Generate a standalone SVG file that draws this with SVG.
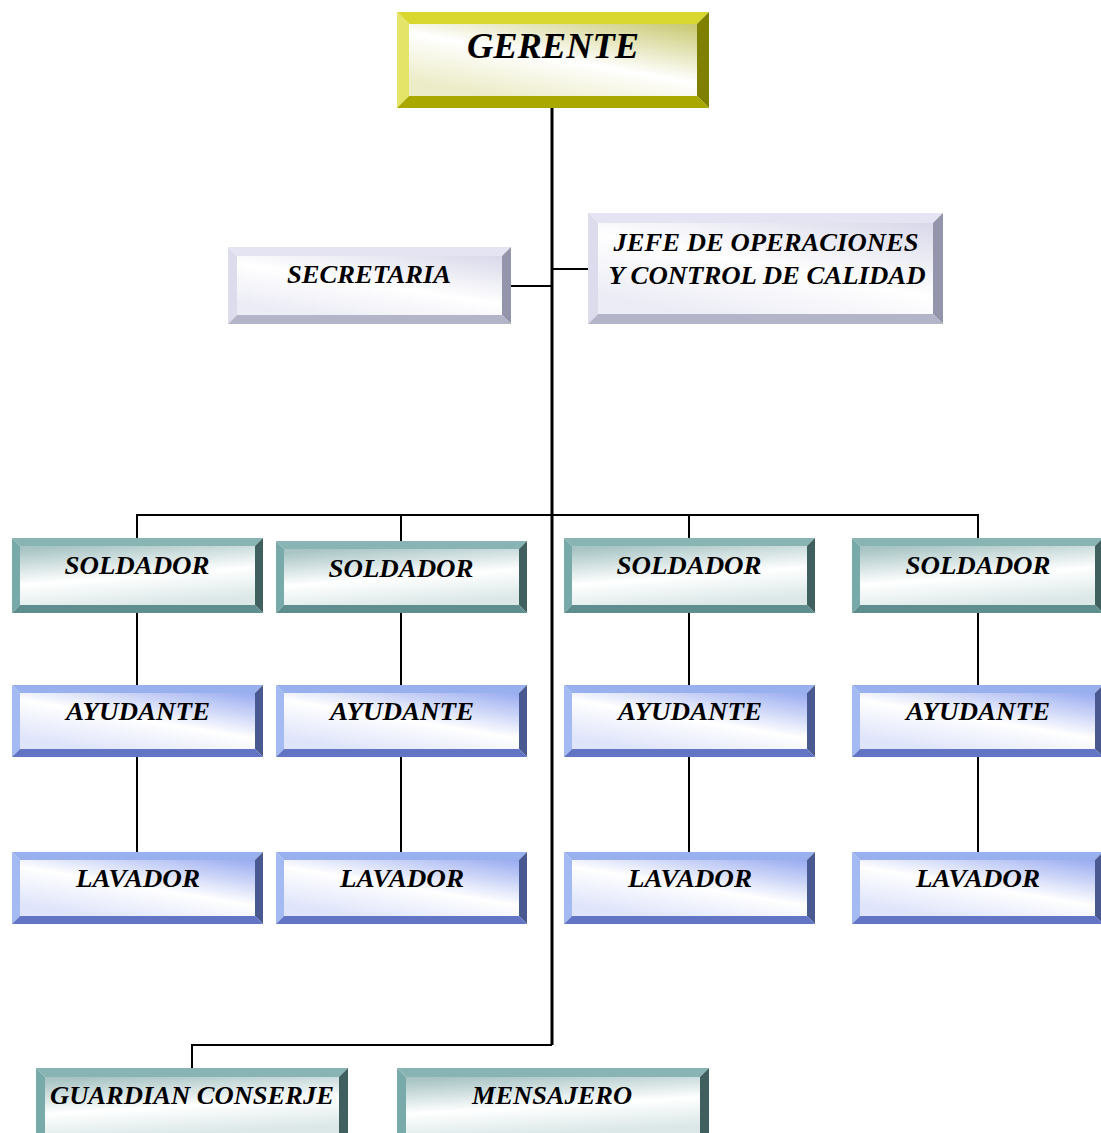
<svg xmlns="http://www.w3.org/2000/svg" width="1101" height="1133" viewBox="0 0 1101 1133">
<defs>
<linearGradient id="gY" x1="1" y1="0" x2="0.3" y2="1"><stop offset="0" stop-color="#c8c870"/><stop offset="0.55" stop-color="#ffffff"/><stop offset="1" stop-color="#ececc8"/></linearGradient>
<linearGradient id="gL" x1="1" y1="0" x2="0.3" y2="1"><stop offset="0" stop-color="#d8d8ea"/><stop offset="0.55" stop-color="#ffffff"/><stop offset="1" stop-color="#ececf6"/></linearGradient>
<linearGradient id="gT" x1="0.2" y1="0" x2="0.5" y2="1"><stop offset="0" stop-color="#a8c4c4"/><stop offset="0.55" stop-color="#ffffff"/><stop offset="1" stop-color="#dce8e8"/></linearGradient>
<linearGradient id="gB" x1="1" y1="0" x2="0.3" y2="1"><stop offset="0" stop-color="#98aaf0"/><stop offset="0.55" stop-color="#ffffff"/><stop offset="1" stop-color="#dfe4fa"/></linearGradient>
</defs>
<style>
text{font-family:"Liberation Serif","Times New Roman",serif;font-weight:bold;font-style:italic;fill:#000;text-anchor:middle}
.s{font-size:25px}
.g{font-size:36px}
.c{stroke:#000;fill:none}
.yt{fill:#d8d830}.yl{fill:#e4e468}.yr{fill:#808000}.yb{fill:#a8a800}
.lt{fill:#e4e4f2}.ll{fill:#dcdcec}.lr{fill:#9494aa}.lb{fill:#b4b4c8}
.tt{fill:#88b4b4}.tl{fill:#78aaaa}.tr{fill:#406060}.tb{fill:#5e8e8e}
.bt{fill:#98b0ee}.bl{fill:#a4baf2}.br{fill:#4a5a90}.bb{fill:#6274c4}
</style>
<g id="connectors">
<line class="c" x1="552" y1="108" x2="552" y2="1045" stroke-width="3"/>
<line class="c" x1="511" y1="286" x2="552" y2="286" stroke-width="2"/>
<line class="c" x1="552" y1="269" x2="588" y2="269" stroke-width="2"/>
<polyline class="c" points="137,538 137,515 978,515 978,538" stroke-width="2"/>
<line class="c" x1="401" y1="515" x2="401" y2="541" stroke-width="2"/>
<line class="c" x1="689" y1="515" x2="689" y2="538" stroke-width="2"/>
<line class="c" x1="137" y1="613" x2="137" y2="685" stroke-width="2"/>
<line class="c" x1="137" y1="757" x2="137" y2="852" stroke-width="2"/>
<line class="c" x1="401" y1="613" x2="401" y2="685" stroke-width="2"/>
<line class="c" x1="401" y1="757" x2="401" y2="852" stroke-width="2"/>
<line class="c" x1="689" y1="613" x2="689" y2="685" stroke-width="2"/>
<line class="c" x1="689" y1="757" x2="689" y2="852" stroke-width="2"/>
<line class="c" x1="978" y1="613" x2="978" y2="685" stroke-width="2"/>
<line class="c" x1="978" y1="757" x2="978" y2="852" stroke-width="2"/>
<polyline class="c" points="192,1068 192,1045 552,1045" stroke-width="2"/>
</g>
<g id="gerente">
<polygon class="yt" points="397,12 709,12 697,24 409,24"/>
<polygon class="yl" points="397,12 409,24 409,96 397,108"/>
<polygon class="yr" points="709,12 709,108 697,96 697,24"/>
<polygon class="yb" points="397,108 709,108 697,96 409,96"/>
<rect x="409" y="24" width="288" height="72" fill="url(#gY)"/>
<text class="g" x="553" y="58" textLength="172" lengthAdjust="spacingAndGlyphs">GERENTE</text>
</g>
<g id="secretaria">
<polygon class="lt" points="228,247 511,247 502,256 237,256"/>
<polygon class="ll" points="228,247 237,256 237,315 228,324"/>
<polygon class="lr" points="511,247 511,324 502,315 502,256"/>
<polygon class="lb" points="228,324 511,324 502,315 237,315"/>
<rect x="237" y="256" width="265" height="59" fill="url(#gL)"/>
<text class="s" x="369" y="283" textLength="164" lengthAdjust="spacingAndGlyphs">SECRETARIA</text>
</g>
<g id="jefe">
<polygon class="lt" points="588,213 943,213 933,223 598,223"/>
<polygon class="ll" points="588,213 598,223 598,314 588,324"/>
<polygon class="lr" points="943,213 943,324 933,314 933,223"/>
<polygon class="lb" points="588,324 943,324 933,314 598,314"/>
<rect x="598" y="223" width="335" height="91" fill="url(#gL)"/>
<text class="s" x="766" y="251" textLength="305" lengthAdjust="spacingAndGlyphs">JEFE DE OPERACIONES</text>
<text class="s" x="767" y="284" textLength="317" lengthAdjust="spacingAndGlyphs">Y CONTROL DE CALIDAD</text>
</g>
<g id="soldador1">
<polygon class="tt" points="12,538 263,538 255,546 20,546"/>
<polygon class="tl" points="12,538 20,546 20,605 12,613"/>
<polygon class="tr" points="263,538 263,613 255,605 255,546"/>
<polygon class="tb" points="12,613 263,613 255,605 20,605"/>
<rect x="20" y="546" width="235" height="59" fill="url(#gT)"/>
<text class="s" x="137" y="574" textLength="145" lengthAdjust="spacingAndGlyphs">SOLDADOR</text>
</g>
<g id="soldador2">
<polygon class="tt" points="276,541 527,541 519,549 284,549"/>
<polygon class="tl" points="276,541 284,549 284,605 276,613"/>
<polygon class="tr" points="527,541 527,613 519,605 519,549"/>
<polygon class="tb" points="276,613 527,613 519,605 284,605"/>
<rect x="284" y="549" width="235" height="56" fill="url(#gT)"/>
<text class="s" x="401" y="577" textLength="145" lengthAdjust="spacingAndGlyphs">SOLDADOR</text>
</g>
<g id="soldador3">
<polygon class="tt" points="564,538 815,538 807,546 572,546"/>
<polygon class="tl" points="564,538 572,546 572,605 564,613"/>
<polygon class="tr" points="815,538 815,613 807,605 807,546"/>
<polygon class="tb" points="564,613 815,613 807,605 572,605"/>
<rect x="572" y="546" width="235" height="59" fill="url(#gT)"/>
<text class="s" x="689" y="574" textLength="145" lengthAdjust="spacingAndGlyphs">SOLDADOR</text>
</g>
<g id="soldador4">
<polygon class="tt" points="852,538 1103,538 1095,546 860,546"/>
<polygon class="tl" points="852,538 860,546 860,605 852,613"/>
<polygon class="tr" points="1103,538 1103,613 1095,605 1095,546"/>
<polygon class="tb" points="852,613 1103,613 1095,605 860,605"/>
<rect x="860" y="546" width="235" height="59" fill="url(#gT)"/>
<text class="s" x="978" y="574" textLength="145" lengthAdjust="spacingAndGlyphs">SOLDADOR</text>
</g>
<g id="ayudante1">
<polygon class="bt" points="12,685 263,685 255,693 20,693"/>
<polygon class="bl" points="12,685 20,693 20,749 12,757"/>
<polygon class="br" points="263,685 263,757 255,749 255,693"/>
<polygon class="bb" points="12,757 263,757 255,749 20,749"/>
<rect x="20" y="693" width="235" height="56" fill="url(#gB)"/>
<text class="s" x="138" y="720" textLength="144" lengthAdjust="spacingAndGlyphs">AYUDANTE</text>
</g>
<g id="ayudante2">
<polygon class="bt" points="276,685 527,685 519,693 284,693"/>
<polygon class="bl" points="276,685 284,693 284,749 276,757"/>
<polygon class="br" points="527,685 527,757 519,749 519,693"/>
<polygon class="bb" points="276,757 527,757 519,749 284,749"/>
<rect x="284" y="693" width="235" height="56" fill="url(#gB)"/>
<text class="s" x="402" y="720" textLength="144" lengthAdjust="spacingAndGlyphs">AYUDANTE</text>
</g>
<g id="ayudante3">
<polygon class="bt" points="564,685 815,685 807,693 572,693"/>
<polygon class="bl" points="564,685 572,693 572,749 564,757"/>
<polygon class="br" points="815,685 815,757 807,749 807,693"/>
<polygon class="bb" points="564,757 815,757 807,749 572,749"/>
<rect x="572" y="693" width="235" height="56" fill="url(#gB)"/>
<text class="s" x="690" y="720" textLength="144" lengthAdjust="spacingAndGlyphs">AYUDANTE</text>
</g>
<g id="ayudante4">
<polygon class="bt" points="852,685 1103,685 1095,693 860,693"/>
<polygon class="bl" points="852,685 860,693 860,749 852,757"/>
<polygon class="br" points="1103,685 1103,757 1095,749 1095,693"/>
<polygon class="bb" points="852,757 1103,757 1095,749 860,749"/>
<rect x="860" y="693" width="235" height="56" fill="url(#gB)"/>
<text class="s" x="978" y="720" textLength="144" lengthAdjust="spacingAndGlyphs">AYUDANTE</text>
</g>
<g id="lavador1">
<polygon class="bt" points="12,852 263,852 255,860 20,860"/>
<polygon class="bl" points="12,852 20,860 20,916 12,924"/>
<polygon class="br" points="263,852 263,924 255,916 255,860"/>
<polygon class="bb" points="12,924 263,924 255,916 20,916"/>
<rect x="20" y="860" width="235" height="56" fill="url(#gB)"/>
<text class="s" x="138" y="887" textLength="124" lengthAdjust="spacingAndGlyphs">LAVADOR</text>
</g>
<g id="lavador2">
<polygon class="bt" points="276,852 527,852 519,860 284,860"/>
<polygon class="bl" points="276,852 284,860 284,916 276,924"/>
<polygon class="br" points="527,852 527,924 519,916 519,860"/>
<polygon class="bb" points="276,924 527,924 519,916 284,916"/>
<rect x="284" y="860" width="235" height="56" fill="url(#gB)"/>
<text class="s" x="402" y="887" textLength="124" lengthAdjust="spacingAndGlyphs">LAVADOR</text>
</g>
<g id="lavador3">
<polygon class="bt" points="564,852 815,852 807,860 572,860"/>
<polygon class="bl" points="564,852 572,860 572,916 564,924"/>
<polygon class="br" points="815,852 815,924 807,916 807,860"/>
<polygon class="bb" points="564,924 815,924 807,916 572,916"/>
<rect x="572" y="860" width="235" height="56" fill="url(#gB)"/>
<text class="s" x="690" y="887" textLength="124" lengthAdjust="spacingAndGlyphs">LAVADOR</text>
</g>
<g id="lavador4">
<polygon class="bt" points="852,852 1103,852 1095,860 860,860"/>
<polygon class="bl" points="852,852 860,860 860,916 852,924"/>
<polygon class="br" points="1103,852 1103,924 1095,916 1095,860"/>
<polygon class="bb" points="852,924 1103,924 1095,916 860,916"/>
<rect x="860" y="860" width="235" height="56" fill="url(#gB)"/>
<text class="s" x="978" y="887" textLength="124" lengthAdjust="spacingAndGlyphs">LAVADOR</text>
</g>
<g id="guardian">
<polygon class="tt" points="36,1068 348,1068 339,1077 45,1077"/>
<polygon class="tl" points="36,1068 45,1077 45,1133 36,1133"/>
<polygon class="tr" points="348,1068 348,1133 339,1133 339,1077"/>
<rect x="45" y="1077" width="294" height="56" fill="url(#gT)"/>
<text class="s" x="192" y="1104" textLength="284" lengthAdjust="spacingAndGlyphs">GUARDIAN CONSERJE</text>
</g>
<g id="mensajero">
<polygon class="tt" points="397,1068 709,1068 700,1077 406,1077"/>
<polygon class="tl" points="397,1068 406,1077 406,1133 397,1133"/>
<polygon class="tr" points="709,1068 709,1133 700,1133 700,1077"/>
<rect x="406" y="1077" width="294" height="56" fill="url(#gT)"/>
<text class="s" x="552" y="1104" textLength="160" lengthAdjust="spacingAndGlyphs">MENSAJERO</text>
</g>
</svg>
